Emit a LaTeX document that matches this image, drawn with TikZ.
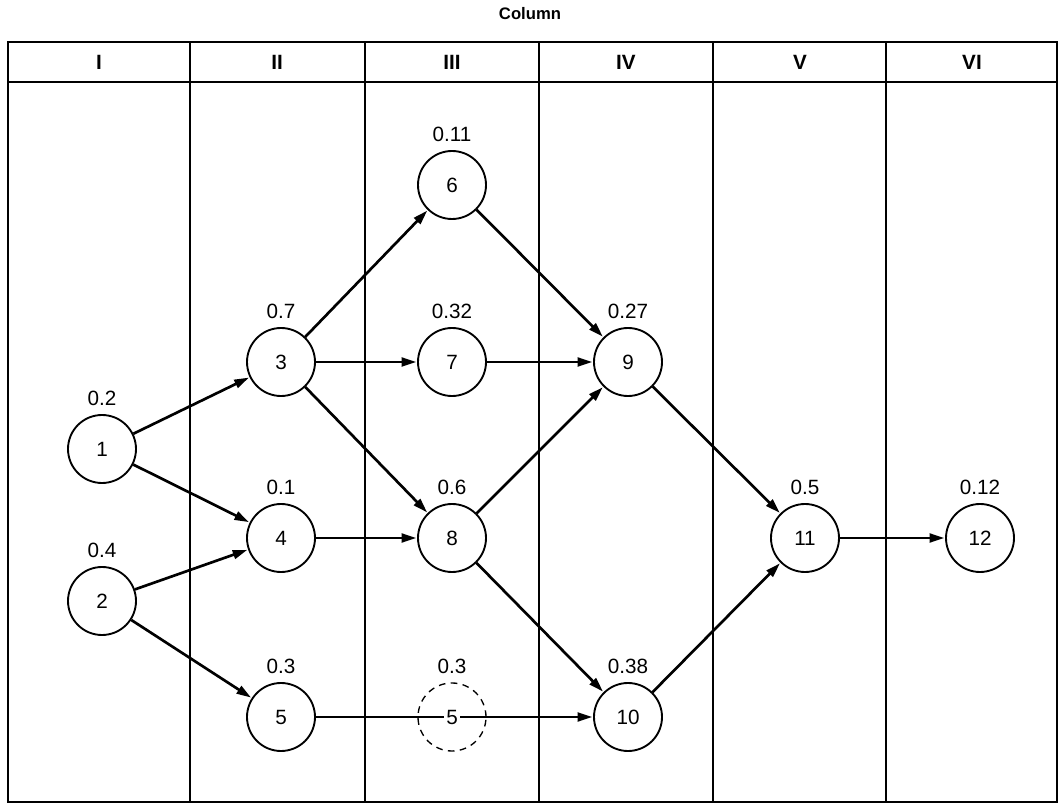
\documentclass[tikz,border=0pt]{standalone}
\usepackage{fontspec}
\setmainfont{Liberation Sans}
\usetikzlibrary{arrows.meta}
\begin{document}
\begin{tikzpicture}[x=0.75pt,y=-0.75pt,
  grid/.style={line width=1.5pt},
  state/.style={circle,draw,line width=1.4pt,minimum size=51pt,inner sep=0pt,
    font=\fontsize{15.5}{18}\selectfont},
  ghost/.style={circle,draw,line width=1pt,minimum size=51pt,inner sep=0pt,
    dash pattern=on 5pt off 4pt},
  prob/.style={font=\fontsize{15.5}{18}\selectfont,inner sep=0pt},
  head/.style={font=\bfseries\fontsize{15.5}{18}\selectfont,inner sep=0pt},
  flow/.style={line width=2pt,-{Triangle[length=11pt,width=6.5pt]},shorten >=0.5pt}]
\useasboundingbox (0,0) rectangle (1061,805);

% table frame with six columns
\draw[grid] (8,42) rectangle (1057,802);
\draw[grid] (8,82) -- (1057,82);
\foreach \x in {190,365,539,713,886}
  \draw[grid] (\x,42) -- (\x,802);

\node[font=\bfseries\fontsize{12.5}{14}\selectfont] (title) at (530,14) {Column};
\node[head] (h1) at (99,62) {I};
\node[head] (h2) at (277,62) {II};
\node[head] (h3) at (452,62) {III};
\node[head] (h4) at (626,62) {IV};
\node[head] (h5) at (800,62) {V};
\node[head] (h6) at (972,62) {VI};

% activity nodes
\node[state] (n1)  at (102,449) {1};
\node[state] (n2)  at (102,601) {2};
\node[state] (n3)  at (281,362) {3};
\node[state] (n4)  at (281,538) {4};
\node[state] (n5)  at (281,717) {5};
\node[state] (n6)  at (452,185) {6};
\node[state] (n7)  at (452,362) {7};
\node[state] (n8)  at (452,538) {8};
\node[state] (n9)  at (628,362) {9};
\node[state] (n10) at (628,717) {10};
\node[state] (n11) at (805,538) {11};
\node[state] (n12) at (980,538) {12};
\node[ghost] (g5)  at (452,717) {};

% probabilities
\node[prob] (p1)  at (102,398) {0.2};
\node[prob] (p2)  at (102,550) {0.4};
\node[prob] (p3)  at (281,311) {0.7};
\node[prob] (p4)  at (281,487) {0.1};
\node[prob] (p5)  at (281,666) {0.3};
\node[prob] (p6)  at (452,134) {0.11};
\node[prob] (p7)  at (452,311) {0.32};
\node[prob] (p8)  at (452,487) {0.6};
\node[prob] (pg)  at (452,666) {0.3};
\node[prob] (p9)  at (628,311) {0.27};
\node[prob] (p10) at (628,666) {0.38};
\node[prob] (p11) at (805,487) {0.5};
\node[prob] (p12) at (980,487) {0.12};

% precedence arrows
\draw[flow] (n1) -- (n3);
\draw[flow] (n1) -- (n4);
\draw[flow] (n2) -- (n4);
\draw[flow] (n2) -- (n5);
\draw[flow] (n3) -- (n6);
\draw[flow] (n3) -- (n7);
\draw[flow] (n3) -- (n8);
\draw[flow] (n4) -- (n8);
\draw[flow] (n6) -- (n9);
\draw[flow] (n7) -- (n9);
\draw[flow] (n8) -- (n9);
\draw[flow] (n8) -- (n10);
\draw[flow] (n9) -- (n11);
\draw[flow] (n10) -- (n11);
\draw[flow] (n11) -- (n12);
\draw[flow] (n5) -- (n10);

% carried-over task 5 sitting on the line
\node[font=\fontsize{15.5}{18}\selectfont,fill=white,inner sep=1.5pt] (g5t) at (g5) {5};
\end{tikzpicture}
\end{document}
